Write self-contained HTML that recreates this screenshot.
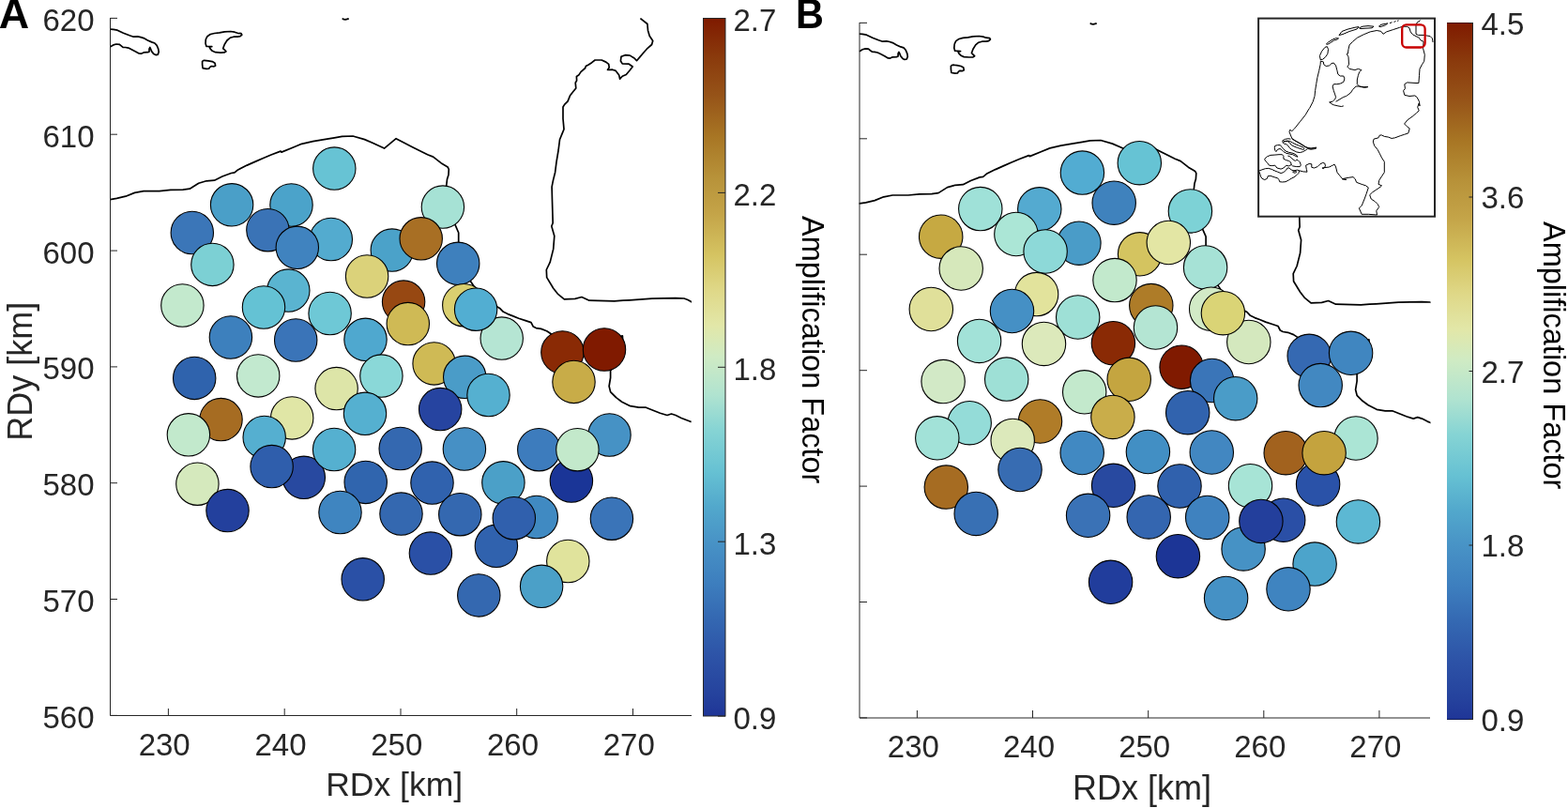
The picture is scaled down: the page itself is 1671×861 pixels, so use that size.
<!DOCTYPE html>
<html><head><meta charset="utf-8"><title>Amplification Factor maps</title>
<style>html,body{margin:0;padding:0;background:#fff;}svg{display:block;}</style>
</head><body>
<svg width="1671" height="861" viewBox="0 0 1671 861">
<defs>
<linearGradient id="cm" x1="0" y1="0" x2="0" y2="1"><stop offset="0.000" stop-color="#7f1a00"/><stop offset="0.055" stop-color="#8a3a0c"/><stop offset="0.110" stop-color="#965318"/><stop offset="0.170" stop-color="#a87624"/><stop offset="0.230" stop-color="#b8933a"/><stop offset="0.280" stop-color="#c4a448"/><stop offset="0.340" stop-color="#d5c462"/><stop offset="0.390" stop-color="#dfd888"/><stop offset="0.440" stop-color="#e2e7a8"/><stop offset="0.485" stop-color="#cfebc4"/><stop offset="0.540" stop-color="#b0e3d0"/><stop offset="0.590" stop-color="#86d4d4"/><stop offset="0.650" stop-color="#66c1d3"/><stop offset="0.700" stop-color="#52a8cc"/><stop offset="0.750" stop-color="#4893c6"/><stop offset="0.810" stop-color="#3d7ebe"/><stop offset="0.860" stop-color="#3468b2"/><stop offset="0.915" stop-color="#2d53a7"/><stop offset="0.970" stop-color="#25429d"/><stop offset="1.000" stop-color="#1f3597"/></linearGradient>
<clipPath id="clipA"><rect x="117" y="19" width="620" height="744"/></clipPath>
<clipPath id="clipB"><rect x="915.5" y="24" width="609" height="741"/></clipPath>
</defs>
<rect width="100%" height="100%" fill="#fff"/>
<g clip-path="url(#clipA)"><path d="M117.3,31.2 L120.8,31.4 L125.1,32.2 L131.5,35.3 L138.0,37.8 L142.3,39.2 L146.6,38.9 L149.9,39.6 L153.1,40.6 L157.4,43.0 L161.7,44.9 L164.9,46.0 L167.1,48.4 L168.7,52.2 L169.2,55.4 L168.2,58.1 L166.0,58.6 L163.9,57.6 L161.7,54.9 L160.6,52.2 L159.8,50.5 L159.0,52.2 L159.0,55.1 L157.4,55.7 L153.1,55.9 L150.4,57.2 L148.2,57.0 L144.5,54.9 L140.2,52.7 L136.9,51.1 L133.7,50.5 L131.0,50.3 L128.9,48.6 L127.2,47.3 L124.0,47.0 L120.8,47.9 L118.1,49.5 L117.3,50.0 M219.3,41.9 L221.0,38.7 L224.2,36.5 L228.5,35.5 L233.9,34.9 L239.3,33.9 L245.7,33.5 L250.0,34.2 L253.3,35.3 L257.0,35.7 L257.8,37.1 L256.0,38.7 L253.3,39.2 L249.0,39.2 L245.2,40.3 L242.0,43.0 L239.3,47.3 L237.7,51.6 L239.3,53.2 L240.9,54.9 L239.3,55.9 L235.0,56.2 L229.6,55.7 L226.3,54.3 L224.2,52.2 L223.1,50.0 L225.8,49.7 L223.1,49.5 L219.9,49.3 L219.0,46.2 L219.3,41.9 M215.6,65.1 L217.7,64.3 L222.0,64.8 L226.3,65.6 L229.0,67.2 L229.6,69.9 L228.0,70.8 L225.3,70.5 L223.6,71.6 L222.6,73.2 L219.9,73.4 L216.1,72.6 L215.6,68.9 L215.6,65.1 M365.1,19.4 L365.5,20.4 L368.0,20.8 L371.0,20.2 L371.2,19.4 M117.5,212.6 L117.4,212.6 L124.4,211.4 L133.9,209.2 L143.5,205.4 L153.1,203.6 L169.8,203.6 L181.8,202.4 L195.0,202.2 L202.2,201.2 L211.7,195.2 L220.1,192.8 L228.5,192.2 L236.9,188.0 L246.4,184.5 L250.0,183.9 L253.6,180.9 L263.2,176.1 L272.8,171.9 L281.2,168.3 L289.5,164.7 L299.1,161.1 L300.0,162.1 L312.0,157.3 L321.5,153.3 L333.5,150.6 L345.5,148.6 L356.3,146.8 L364.6,145.3 L376.0,145.0 L388.6,148.6 L398.1,152.7 L409.5,158.1 L422.1,147.7 L440.0,156.9 L455.6,164.7 L461.6,167.1 L470.0,173.7 L477.1,177.9 L478.3,180.3 L478.0,186.3 L476.5,191.0 L475.7,198.2 L476.5,205.0 L479.0,218.0 L483.0,232.0 L485.2,239.9 L488.7,248.0 L488.7,258.5 L490.0,270.0 L495.0,290.0 L505.0,305.0 L520.0,318.0 L530.0,327.0 L533.0,328.8 L536.4,332.3 L541.1,334.6 L546.9,336.9 L552.7,339.2 L560.0,341.6 L566.0,343.6 L568.3,348.1 L571.3,349.6 L576.6,350.4 L582.7,352.7 L587.2,355.7 L600.0,362.0 L621.7,374.0 L640.0,366.0 L655.0,360.0 L663.4,357.9 L664.0,370.0 L658.0,385.0 L650.6,394.9 L650.6,402.5 L649.1,411.5 L650.6,417.6 L656.6,423.6 L662.7,428.2 L671.7,432.7 L680.8,434.2 L688.4,434.2 L695.9,437.2 L703.5,440.2 L711.0,442.5 L715.5,441.0 L720.1,442.5 L726.1,445.5 L735.9,449.3 L736.6,449.6 M682.4,19.6 L689.9,25.5 L690.5,32.4 L692.2,38.2 L695.7,43.5 L694.6,47.5 L689.3,52.2 L685.3,56.8 L681.8,60.9 L678.5,64.7 L676.0,62.0 L671.3,59.1 L666.7,58.6 L662.0,60.3 L661.4,65.0 L663.2,67.9 L670.2,68.2 L674.2,71.0 L671.3,74.8 L667.3,79.5 L663.2,81.2 L660.6,84.1 L659.7,80.1 L656.2,75.4 L652.7,74.2 L647.5,74.5 L649.2,71.9 L648.7,68.4 L645.8,66.1 L641.1,64.0 L634.1,64.0 L630.7,66.7 L627.2,69.0 L624.3,70.5 L623.7,72.5 L619.0,76.6 L616.7,80.1 L614.4,81.4 L614.6,85.9 L613.2,88.2 L613.8,94.0 L610.9,97.5 L607.4,102.1 L605.1,107.9 L601.6,111.4 L600.0,114.0 L600.0,126.5 L601.0,137.7 L599.3,141.9 L596.5,148.8 L595.1,160.0 L593.0,172.6 L591.6,183.7 L589.5,192.1 L588.1,199.1 L588.5,214.3 L589.2,237.6 L587.8,241.0 L590.8,251.5 L589.7,265.4 L586.2,279.4 L582.3,287.5 L582.7,295.6 L589.7,307.2 L594.3,313.1 L601.3,318.9 L612.9,318.4 L619.9,316.5 L628.0,320.2 L654.7,320.8 L664.0,320.2 L671.0,319.8 L695.0,318.2 L720.0,317.7 L729.0,318.0 L733.0,319.5 L737.5,322.0" fill="none" stroke="#000" stroke-width="1.7" stroke-linejoin="round"/></g>
<circle cx="247.1" cy="218.3" r="22.7" fill="#4a9fc8" stroke="#000" stroke-width="1.1"/>
<circle cx="310.5" cy="218.5" r="22.7" fill="#4ba3ca" stroke="#000" stroke-width="1.1"/>
<circle cx="204.8" cy="248.0" r="22.7" fill="#3b76b8" stroke="#000" stroke-width="1.1"/>
<circle cx="285.4" cy="245.2" r="22.7" fill="#3a73b6" stroke="#000" stroke-width="1.1"/>
<circle cx="352.8" cy="255.0" r="22.7" fill="#53abcf" stroke="#000" stroke-width="1.1"/>
<circle cx="316.8" cy="263.8" r="22.7" fill="#4083bf" stroke="#000" stroke-width="1.1"/>
<circle cx="226.4" cy="281.9" r="22.7" fill="#7cd0d4" stroke="#000" stroke-width="1.1"/>
<circle cx="194.4" cy="325.5" r="22.7" fill="#c3e9cd" stroke="#000" stroke-width="1.1"/>
<circle cx="307.3" cy="309.6" r="22.7" fill="#5ab4d0" stroke="#000" stroke-width="1.1"/>
<circle cx="281.0" cy="327.5" r="22.7" fill="#64c2d4" stroke="#000" stroke-width="1.1"/>
<circle cx="356.3" cy="179.6" r="22.7" fill="#67c3d4" stroke="#000" stroke-width="1.1"/>
<circle cx="471.9" cy="220.6" r="22.7" fill="#a6e2d5" stroke="#000" stroke-width="1.1"/>
<circle cx="417.8" cy="266.6" r="22.7" fill="#4ba2c9" stroke="#000" stroke-width="1.1"/>
<circle cx="448.7" cy="254.3" r="22.7" fill="#a86f24" stroke="#000" stroke-width="1.1"/>
<circle cx="488.2" cy="280.8" r="22.7" fill="#3e80bd" stroke="#000" stroke-width="1.1"/>
<circle cx="391.1" cy="294.5" r="22.7" fill="#dbd27a" stroke="#000" stroke-width="1.1"/>
<circle cx="430.1" cy="321.6" r="22.7" fill="#974812" stroke="#000" stroke-width="1.1"/>
<circle cx="434.8" cy="345.1" r="22.7" fill="#cfba55" stroke="#000" stroke-width="1.1"/>
<circle cx="534.7" cy="360.6" r="22.7" fill="#b5e5d3" stroke="#000" stroke-width="1.1"/>
<circle cx="494.3" cy="325.2" r="22.7" fill="#dacf70" stroke="#000" stroke-width="1.1"/>
<circle cx="507.1" cy="329.7" r="22.7" fill="#52aed2" stroke="#000" stroke-width="1.1"/>
<circle cx="351.6" cy="334.0" r="22.7" fill="#6ec8d6" stroke="#000" stroke-width="1.1"/>
<circle cx="245.9" cy="359.5" r="22.7" fill="#3d80bd" stroke="#000" stroke-width="1.1"/>
<circle cx="315.2" cy="362.5" r="22.7" fill="#3a74b8" stroke="#000" stroke-width="1.1"/>
<circle cx="207.2" cy="402.9" r="22.7" fill="#2f63ad" stroke="#000" stroke-width="1.1"/>
<circle cx="275.2" cy="400.4" r="22.7" fill="#c2e9cf" stroke="#000" stroke-width="1.1"/>
<circle cx="235.5" cy="447.1" r="22.7" fill="#a66c22" stroke="#000" stroke-width="1.1"/>
<circle cx="200.9" cy="463.3" r="22.7" fill="#c2e9cc" stroke="#000" stroke-width="1.1"/>
<circle cx="311.2" cy="445.4" r="22.7" fill="#e0e6a6" stroke="#000" stroke-width="1.1"/>
<circle cx="281.7" cy="465.9" r="22.7" fill="#55afd0" stroke="#000" stroke-width="1.1"/>
<circle cx="323.8" cy="508.8" r="22.7" fill="#2849a0" stroke="#000" stroke-width="1.1"/>
<circle cx="289.6" cy="497.1" r="22.7" fill="#2f5eac" stroke="#000" stroke-width="1.1"/>
<circle cx="358.6" cy="414.1" r="22.7" fill="#dde5a8" stroke="#000" stroke-width="1.1"/>
<circle cx="389.5" cy="361.8" r="22.7" fill="#4fa8cf" stroke="#000" stroke-width="1.1"/>
<circle cx="406.4" cy="400.6" r="22.7" fill="#8ad8d8" stroke="#000" stroke-width="1.1"/>
<circle cx="389.0" cy="440.8" r="22.7" fill="#55b0d0" stroke="#000" stroke-width="1.1"/>
<circle cx="462.6" cy="387.4" r="22.7" fill="#cfba55" stroke="#000" stroke-width="1.1"/>
<circle cx="495.2" cy="401.8" r="22.7" fill="#4a9cc8" stroke="#000" stroke-width="1.1"/>
<circle cx="520.5" cy="421.0" r="22.7" fill="#55b0d0" stroke="#000" stroke-width="1.1"/>
<circle cx="469.2" cy="436.1" r="22.7" fill="#2644a0" stroke="#000" stroke-width="1.1"/>
<circle cx="599.4" cy="375.5" r="22.7" fill="#8a2a05" stroke="#000" stroke-width="1.1"/>
<circle cx="644.0" cy="372.5" r="22.7" fill="#801a00" stroke="#000" stroke-width="1.1"/>
<circle cx="611.5" cy="406.9" r="22.7" fill="#c8ac48" stroke="#000" stroke-width="1.1"/>
<circle cx="574.3" cy="479.2" r="22.7" fill="#3d7cbd" stroke="#000" stroke-width="1.1"/>
<circle cx="649.5" cy="463.5" r="22.7" fill="#4692c5" stroke="#000" stroke-width="1.1"/>
<circle cx="608.9" cy="512.5" r="22.7" fill="#1a3597" stroke="#000" stroke-width="1.1"/>
<circle cx="615.4" cy="479.2" r="22.7" fill="#c3e9cb" stroke="#000" stroke-width="1.1"/>
<circle cx="210.4" cy="515.7" r="22.7" fill="#d5e9bd" stroke="#000" stroke-width="1.1"/>
<circle cx="242.5" cy="544.1" r="22.7" fill="#23409d" stroke="#000" stroke-width="1.1"/>
<circle cx="356.1" cy="479.0" r="22.7" fill="#55b0d0" stroke="#000" stroke-width="1.1"/>
<circle cx="426.7" cy="478.0" r="22.7" fill="#3468b0" stroke="#000" stroke-width="1.1"/>
<circle cx="494.9" cy="478.5" r="22.7" fill="#4690c5" stroke="#000" stroke-width="1.1"/>
<circle cx="389.7" cy="513.9" r="22.7" fill="#3065ae" stroke="#000" stroke-width="1.1"/>
<circle cx="362.5" cy="546.0" r="22.7" fill="#3f85c0" stroke="#000" stroke-width="1.1"/>
<circle cx="460.5" cy="514.6" r="22.7" fill="#3062ae" stroke="#000" stroke-width="1.1"/>
<circle cx="427.5" cy="547.6" r="22.7" fill="#3468b0" stroke="#000" stroke-width="1.1"/>
<circle cx="490.3" cy="548.2" r="22.7" fill="#3468b0" stroke="#000" stroke-width="1.1"/>
<circle cx="536.4" cy="514.3" r="22.7" fill="#4ba0c8" stroke="#000" stroke-width="1.1"/>
<circle cx="571.8" cy="551.0" r="22.7" fill="#408ac2" stroke="#000" stroke-width="1.1"/>
<circle cx="528.9" cy="581.8" r="22.7" fill="#3062ae" stroke="#000" stroke-width="1.1"/>
<circle cx="547.8" cy="552.2" r="22.7" fill="#3060ad" stroke="#000" stroke-width="1.1"/>
<circle cx="651.9" cy="552.7" r="22.7" fill="#3a74b8" stroke="#000" stroke-width="1.1"/>
<circle cx="605.3" cy="598.0" r="22.7" fill="#e0e39c" stroke="#000" stroke-width="1.1"/>
<circle cx="577.1" cy="624.8" r="22.7" fill="#4ba0c8" stroke="#000" stroke-width="1.1"/>
<circle cx="510.3" cy="634.4" r="22.7" fill="#3468b0" stroke="#000" stroke-width="1.1"/>
<circle cx="458.9" cy="589.6" r="22.7" fill="#2a50a6" stroke="#000" stroke-width="1.1"/>
<circle cx="386.7" cy="617.3" r="22.7" fill="#2a50a6" stroke="#000" stroke-width="1.1"/>
<path d="M117.5,19 L117.5,762.5 L737,762.5 M179.4,762.5 L179.4,755 M303.2,762.5 L303.2,755 M427.0,762.5 L427.0,755 M550.7,762.5 L550.7,755 M674.5,762.5 L674.5,755 M117.5,19.4 L125,19.4 M117.5,143.2 L125,143.2 M117.5,267.1 L125,267.1 M117.5,390.9 L125,390.9 M117.5,514.7 L125,514.7 M117.5,638.5 L125,638.5 M117.5,762.4 L125,762.4 " fill="none" stroke="#262626" stroke-width="1"/>
<text x="175.2" y="805.2" font-size="33" text-anchor="middle" fill="#262626" font-family="'Liberation Sans', Helvetica, Arial, sans-serif">230</text>
<text x="299.0" y="805.2" font-size="33" text-anchor="middle" fill="#262626" font-family="'Liberation Sans', Helvetica, Arial, sans-serif">240</text>
<text x="422.8" y="805.2" font-size="33" text-anchor="middle" fill="#262626" font-family="'Liberation Sans', Helvetica, Arial, sans-serif">250</text>
<text x="546.5" y="805.2" font-size="33" text-anchor="middle" fill="#262626" font-family="'Liberation Sans', Helvetica, Arial, sans-serif">260</text>
<text x="670.3" y="805.2" font-size="33" text-anchor="middle" fill="#262626" font-family="'Liberation Sans', Helvetica, Arial, sans-serif">270</text>
<text x="100.5" y="32.8" font-size="33" text-anchor="end" fill="#262626" font-family="'Liberation Sans', Helvetica, Arial, sans-serif">620</text>
<text x="100.5" y="156.7" font-size="33" text-anchor="end" fill="#262626" font-family="'Liberation Sans', Helvetica, Arial, sans-serif">610</text>
<text x="100.5" y="280.5" font-size="33" text-anchor="end" fill="#262626" font-family="'Liberation Sans', Helvetica, Arial, sans-serif">600</text>
<text x="100.5" y="404.3" font-size="33" text-anchor="end" fill="#262626" font-family="'Liberation Sans', Helvetica, Arial, sans-serif">590</text>
<text x="100.5" y="528.2" font-size="33" text-anchor="end" fill="#262626" font-family="'Liberation Sans', Helvetica, Arial, sans-serif">580</text>
<text x="100.5" y="652.0" font-size="33" text-anchor="end" fill="#262626" font-family="'Liberation Sans', Helvetica, Arial, sans-serif">570</text>
<text x="100.5" y="775.8" font-size="33" text-anchor="end" fill="#262626" font-family="'Liberation Sans', Helvetica, Arial, sans-serif">560</text>
<text x="420.2" y="848.3" font-size="35.5" text-anchor="middle" fill="#262626" font-family="'Liberation Sans', Helvetica, Arial, sans-serif">RDx [km]</text>
<text transform="translate(33.5,395.8) rotate(-90)" font-size="36" text-anchor="middle" fill="#262626" font-family="'Liberation Sans', Helvetica, Arial, sans-serif">RDy [km]</text>
<rect x="749.5" y="19.5" width="23.5" height="743.5" fill="url(#cm)" stroke="#262626" stroke-width="1"/>
<path d="M773,19.5 L765,19.5 M773,205.4 L765,205.4 M773,391.3 L765,391.3 M773,577.2 L765,577.2 M773,763.1 L765,763.1 " stroke="#262626" stroke-width="1"/>
<text x="781.5" y="33.0" font-size="33" fill="#262626" font-family="'Liberation Sans', Helvetica, Arial, sans-serif">2.7</text>
<text x="781.5" y="218.9" font-size="33" fill="#262626" font-family="'Liberation Sans', Helvetica, Arial, sans-serif">2.2</text>
<text x="781.5" y="404.8" font-size="33" fill="#262626" font-family="'Liberation Sans', Helvetica, Arial, sans-serif">1.8</text>
<text x="781.5" y="590.7" font-size="33" fill="#262626" font-family="'Liberation Sans', Helvetica, Arial, sans-serif">1.3</text>
<text x="781.5" y="776.6" font-size="33" fill="#262626" font-family="'Liberation Sans', Helvetica, Arial, sans-serif">0.9</text>
<text transform="translate(854.6,372.7) rotate(90)" font-size="32.5" text-anchor="middle" fill="#000" font-family="'Liberation Sans', Helvetica, Arial, sans-serif">Amplification Factor</text>
<g clip-path="url(#clipB)"><path d="M915.7,36.1 L919.1,36.3 L923.4,37.2 L929.8,40.2 L936.2,42.8 L940.5,44.2 L944.8,43.9 L948.0,44.5 L951.3,45.6 L955.5,47.9 L959.8,49.9 L963.0,50.9 L965.2,53.3 L966.8,57.1 L967.3,60.3 L966.3,63.0 L964.1,63.5 L962.0,62.4 L959.8,59.7 L958.8,57.1 L957.9,55.4 L957.1,57.1 L957.1,60.0 L955.5,60.6 L951.3,60.8 L948.6,62.1 L946.4,61.9 L942.7,59.7 L938.4,57.6 L935.2,56.0 L932.0,55.4 L929.3,55.2 L927.1,53.5 L925.5,52.2 L922.3,51.9 L919.1,52.8 L916.4,54.4 L915.7,54.9 M1017.2,46.9 L1018.8,43.6 L1022.0,41.5 L1026.3,40.4 L1031.6,39.9 L1037.0,38.8 L1043.4,38.5 L1047.7,39.1 L1050.9,40.2 L1054.7,40.6 L1055.4,42.0 L1053.6,43.6 L1050.9,44.2 L1046.6,44.2 L1042.9,45.2 L1039.7,47.9 L1037.0,52.2 L1035.4,56.5 L1037.0,58.1 L1038.6,59.7 L1037.0,60.8 L1032.7,61.0 L1027.3,60.6 L1024.1,59.2 L1022.0,57.1 L1020.9,54.9 L1023.6,54.6 L1020.9,54.4 L1017.7,54.2 L1016.8,51.2 L1017.2,46.9 M1013.4,69.9 L1015.5,69.2 L1019.8,69.6 L1024.1,70.5 L1026.8,72.1 L1027.3,74.8 L1025.7,75.6 L1023.0,75.3 L1021.4,76.4 L1020.4,78.0 L1017.7,78.2 L1013.9,77.5 L1013.4,73.7 L1013.4,69.9 M1162.1,24.4 L1162.5,25.4 L1165.0,25.8 L1168.0,25.2 L1168.2,24.4 M915.9,216.9 L915.8,216.9 L922.7,215.8 L932.2,213.6 L941.7,209.8 L951.2,208.0 L967.9,208.0 L979.8,206.8 L992.9,206.6 L1000.1,205.6 L1009.6,199.6 L1017.9,197.3 L1026.3,196.7 L1034.6,192.5 L1044.1,188.9 L1047.7,188.3 L1051.3,185.3 L1060.8,180.6 L1070.3,176.4 L1078.6,172.8 L1087.0,169.2 L1096.5,165.6 L1097.4,166.6 L1109.3,161.8 L1118.8,157.9 L1130.7,155.2 L1142.6,153.1 L1153.3,151.3 L1161.7,149.9 L1173.0,149.5 L1185.5,153.1 L1195.0,157.3 L1206.3,162.7 L1218.8,152.3 L1236.7,161.5 L1252.2,169.2 L1258.1,171.6 L1266.4,178.2 L1273.6,182.4 L1274.8,184.7 L1274.4,190.7 L1273.0,195.5 L1272.2,202.6 L1273.0,209.4 L1275.4,222.3 L1279.4,236.3 L1281.6,244.2 L1285.1,252.2 L1285.1,262.7 L1286.4,274.2 L1291.4,294.1 L1301.3,309.1 L1316.2,322.0 L1326.2,331.0 L1329.2,332.8 L1332.5,336.3 L1337.2,338.6 L1343.0,340.8 L1348.7,343.1 L1356.0,345.5 L1362.0,347.5 L1364.3,352.0 L1367.2,353.5 L1372.5,354.3 L1378.6,356.6 L1383.1,359.6 L1395.8,365.9 L1417.4,377.8 L1435.6,369.9 L1450.5,363.9 L1458.9,361.8 L1459.5,373.8 L1453.5,388.8 L1446.1,398.7 L1446.1,406.2 L1444.6,415.2 L1446.1,421.3 L1452.1,427.3 L1458.2,431.8 L1467.1,436.3 L1476.2,437.8 L1483.7,437.8 L1491.2,440.8 L1498.7,443.8 L1506.2,446.1 L1510.7,444.6 L1515.3,446.1 L1521.2,449.1 L1531.0,452.9 L1531.7,453.2 M1477.7,24.6 L1485.2,30.4 L1485.8,37.4 L1487.5,43.2 L1491.0,48.4 L1489.9,52.4 L1484.7,57.1 L1480.6,61.7 L1477.1,65.8 L1473.9,69.6 L1471.4,66.9 L1466.7,64.0 L1462.1,63.4 L1457.5,65.2 L1456.9,69.8 L1458.7,72.7 L1465.6,73.0 L1469.6,75.8 L1466.7,79.6 L1462.7,84.3 L1458.7,86.0 L1456.1,88.9 L1455.2,84.9 L1451.7,80.2 L1448.3,79.1 L1443.1,79.3 L1444.8,76.7 L1444.2,73.3 L1441.3,71.0 L1436.7,68.9 L1429.8,68.9 L1426.3,71.5 L1422.8,73.9 L1419.9,75.4 L1419.4,77.3 L1414.7,81.4 L1412.4,84.9 L1410.1,86.2 L1410.3,90.6 L1409.0,93.0 L1409.5,98.7 L1406.6,102.2 L1403.2,106.9 L1400.9,112.6 L1397.4,116.1 L1395.8,118.7 L1395.8,131.1 L1396.8,142.3 L1395.1,146.5 L1392.3,153.4 L1390.9,164.5 L1388.8,177.1 L1387.4,188.2 L1385.4,196.5 L1384.0,203.5 L1384.4,218.7 L1385.1,241.9 L1383.7,245.3 L1386.6,255.7 L1385.6,269.6 L1382.1,283.5 L1378.2,291.6 L1378.6,299.7 L1385.6,311.2 L1390.1,317.1 L1397.1,322.9 L1408.6,322.4 L1415.6,320.5 L1423.6,324.2 L1450.2,324.8 L1459.5,324.2 L1466.4,323.8 L1490.3,322.2 L1515.2,321.7 L1524.1,322.0 L1528.1,323.5 L1532.6,326.0" fill="none" stroke="#000" stroke-width="1.7" stroke-linejoin="round"/></g>
<circle cx="1044.8" cy="222.6" r="23.2" fill="#9fe1d8" stroke="#000" stroke-width="1.1"/>
<circle cx="1107.8" cy="222.8" r="23.2" fill="#54aad0" stroke="#000" stroke-width="1.1"/>
<circle cx="1002.7" cy="252.2" r="23.2" fill="#c6a942" stroke="#000" stroke-width="1.1"/>
<circle cx="1082.9" cy="249.5" r="23.2" fill="#abe6d6" stroke="#000" stroke-width="1.1"/>
<circle cx="1149.9" cy="259.2" r="23.2" fill="#4a9cc8" stroke="#000" stroke-width="1.1"/>
<circle cx="1114.1" cy="268.0" r="23.2" fill="#8dd9d8" stroke="#000" stroke-width="1.1"/>
<circle cx="1024.2" cy="286.0" r="23.2" fill="#d6e8bb" stroke="#000" stroke-width="1.1"/>
<circle cx="992.3" cy="329.5" r="23.2" fill="#e0e09a" stroke="#000" stroke-width="1.1"/>
<circle cx="1104.6" cy="313.6" r="23.2" fill="#e2e39c" stroke="#000" stroke-width="1.1"/>
<circle cx="1078.5" cy="331.5" r="23.2" fill="#4590c5" stroke="#000" stroke-width="1.1"/>
<circle cx="1153.4" cy="184.1" r="23.2" fill="#52acd2" stroke="#000" stroke-width="1.1"/>
<circle cx="1268.4" cy="224.9" r="23.2" fill="#7dd2d6" stroke="#000" stroke-width="1.1"/>
<circle cx="1214.6" cy="270.8" r="23.2" fill="#d4c460" stroke="#000" stroke-width="1.1"/>
<circle cx="1245.3" cy="258.5" r="23.2" fill="#e3e6a4" stroke="#000" stroke-width="1.1"/>
<circle cx="1284.6" cy="284.9" r="23.2" fill="#a6e2d6" stroke="#000" stroke-width="1.1"/>
<circle cx="1188.0" cy="298.6" r="23.2" fill="#c2e9cc" stroke="#000" stroke-width="1.1"/>
<circle cx="1226.8" cy="325.6" r="23.2" fill="#ae7c28" stroke="#000" stroke-width="1.1"/>
<circle cx="1231.5" cy="349.0" r="23.2" fill="#b4e5d3" stroke="#000" stroke-width="1.1"/>
<circle cx="1330.8" cy="364.5" r="23.2" fill="#d4e8be" stroke="#000" stroke-width="1.1"/>
<circle cx="1290.7" cy="329.2" r="23.2" fill="#d2eac6" stroke="#000" stroke-width="1.1"/>
<circle cx="1303.4" cy="333.7" r="23.2" fill="#dad476" stroke="#000" stroke-width="1.1"/>
<circle cx="1148.7" cy="338.0" r="23.2" fill="#9ee0d6" stroke="#000" stroke-width="1.1"/>
<circle cx="1043.6" cy="363.4" r="23.2" fill="#a2e2d8" stroke="#000" stroke-width="1.1"/>
<circle cx="1112.5" cy="366.4" r="23.2" fill="#dce9bb" stroke="#000" stroke-width="1.1"/>
<circle cx="1005.1" cy="406.6" r="23.2" fill="#d2e9c6" stroke="#000" stroke-width="1.1"/>
<circle cx="1072.7" cy="404.1" r="23.2" fill="#9ee0d6" stroke="#000" stroke-width="1.1"/>
<circle cx="1033.2" cy="450.7" r="23.2" fill="#94dcd8" stroke="#000" stroke-width="1.1"/>
<circle cx="998.8" cy="466.8" r="23.2" fill="#a2e2d8" stroke="#000" stroke-width="1.1"/>
<circle cx="1108.5" cy="449.0" r="23.2" fill="#b07c28" stroke="#000" stroke-width="1.1"/>
<circle cx="1079.2" cy="469.4" r="23.2" fill="#dce9bb" stroke="#000" stroke-width="1.1"/>
<circle cx="1087.0" cy="500.5" r="23.2" fill="#376cb2" stroke="#000" stroke-width="1.1"/>
<circle cx="1155.7" cy="417.8" r="23.2" fill="#c3e9cc" stroke="#000" stroke-width="1.1"/>
<circle cx="1186.4" cy="365.7" r="23.2" fill="#8a2a05" stroke="#000" stroke-width="1.1"/>
<circle cx="1203.2" cy="404.3" r="23.2" fill="#c4a540" stroke="#000" stroke-width="1.1"/>
<circle cx="1185.9" cy="444.4" r="23.2" fill="#c9ad4a" stroke="#000" stroke-width="1.1"/>
<circle cx="1259.1" cy="391.2" r="23.2" fill="#801a00" stroke="#000" stroke-width="1.1"/>
<circle cx="1291.6" cy="405.5" r="23.2" fill="#3a75b8" stroke="#000" stroke-width="1.1"/>
<circle cx="1316.7" cy="424.7" r="23.2" fill="#4a9cc8" stroke="#000" stroke-width="1.1"/>
<circle cx="1265.7" cy="439.7" r="23.2" fill="#3163ae" stroke="#000" stroke-width="1.1"/>
<circle cx="1395.2" cy="379.3" r="23.2" fill="#3569b2" stroke="#000" stroke-width="1.1"/>
<circle cx="1439.6" cy="376.3" r="23.2" fill="#4086c0" stroke="#000" stroke-width="1.1"/>
<circle cx="1407.2" cy="410.6" r="23.2" fill="#4288c1" stroke="#000" stroke-width="1.1"/>
<circle cx="1370.2" cy="482.7" r="23.2" fill="#a2621e" stroke="#000" stroke-width="1.1"/>
<circle cx="1445.0" cy="467.0" r="23.2" fill="#abe5d5" stroke="#000" stroke-width="1.1"/>
<circle cx="1404.6" cy="515.9" r="23.2" fill="#2a52a8" stroke="#000" stroke-width="1.1"/>
<circle cx="1411.1" cy="482.7" r="23.2" fill="#c4a33e" stroke="#000" stroke-width="1.1"/>
<circle cx="1008.3" cy="519.1" r="23.2" fill="#a66c22" stroke="#000" stroke-width="1.1"/>
<circle cx="1040.2" cy="547.4" r="23.2" fill="#3870b4" stroke="#000" stroke-width="1.1"/>
<circle cx="1153.2" cy="482.5" r="23.2" fill="#4189c2" stroke="#000" stroke-width="1.1"/>
<circle cx="1223.4" cy="481.5" r="23.2" fill="#428fc4" stroke="#000" stroke-width="1.1"/>
<circle cx="1291.3" cy="482.0" r="23.2" fill="#4287c1" stroke="#000" stroke-width="1.1"/>
<circle cx="1186.6" cy="517.3" r="23.2" fill="#2849a0" stroke="#000" stroke-width="1.1"/>
<circle cx="1159.6" cy="549.3" r="23.2" fill="#3a72b6" stroke="#000" stroke-width="1.1"/>
<circle cx="1257.0" cy="518.0" r="23.2" fill="#3061ad" stroke="#000" stroke-width="1.1"/>
<circle cx="1224.2" cy="550.9" r="23.2" fill="#3466b0" stroke="#000" stroke-width="1.1"/>
<circle cx="1286.7" cy="551.4" r="23.2" fill="#3f82bf" stroke="#000" stroke-width="1.1"/>
<circle cx="1332.5" cy="517.7" r="23.2" fill="#a7e4d6" stroke="#000" stroke-width="1.1"/>
<circle cx="1367.7" cy="554.2" r="23.2" fill="#2a4fa6" stroke="#000" stroke-width="1.1"/>
<circle cx="1325.1" cy="584.9" r="23.2" fill="#4692c5" stroke="#000" stroke-width="1.1"/>
<circle cx="1343.9" cy="555.4" r="23.2" fill="#233f9c" stroke="#000" stroke-width="1.1"/>
<circle cx="1447.4" cy="555.9" r="23.2" fill="#5cb8d3" stroke="#000" stroke-width="1.1"/>
<circle cx="1401.1" cy="601.1" r="23.2" fill="#4ca4cb" stroke="#000" stroke-width="1.1"/>
<circle cx="1373.0" cy="627.8" r="23.2" fill="#3f84c0" stroke="#000" stroke-width="1.1"/>
<circle cx="1306.6" cy="637.4" r="23.2" fill="#4591c5" stroke="#000" stroke-width="1.1"/>
<circle cx="1255.4" cy="592.7" r="23.2" fill="#1c3596" stroke="#000" stroke-width="1.1"/>
<circle cx="1183.6" cy="620.3" r="23.2" fill="#213d9c" stroke="#000" stroke-width="1.1"/>
<circle cx="1214.3" cy="173.7" r="23.2" fill="#66c3d4" stroke="#000" stroke-width="1.1"/>
<circle cx="1187.2" cy="216.2" r="23.2" fill="#3f82bd" stroke="#000" stroke-width="1.1"/>
<path d="M916,24 L916,765 L1524,765 M977.4,765 L977.4,757 M1100.5,765 L1100.5,757 M1223.7,765 L1223.7,757 M1346.8,765 L1346.8,757 M1469.9,765 L1469.9,757 M916,24.4 L924,24.4 M916,147.8 L924,147.8 M916,271.2 L924,271.2 M916,394.7 L924,394.7 M916,518.1 L924,518.1 M916,641.5 L924,641.5 M916,764.9 L924,764.9 " fill="none" stroke="#262626" stroke-width="1"/>
<text x="973.4" y="807.0" font-size="33" text-anchor="middle" fill="#262626" font-family="'Liberation Sans', Helvetica, Arial, sans-serif">230</text>
<text x="1096.5" y="807.0" font-size="33" text-anchor="middle" fill="#262626" font-family="'Liberation Sans', Helvetica, Arial, sans-serif">240</text>
<text x="1219.7" y="807.0" font-size="33" text-anchor="middle" fill="#262626" font-family="'Liberation Sans', Helvetica, Arial, sans-serif">250</text>
<text x="1342.8" y="807.0" font-size="33" text-anchor="middle" fill="#262626" font-family="'Liberation Sans', Helvetica, Arial, sans-serif">260</text>
<text x="1465.9" y="807.0" font-size="33" text-anchor="middle" fill="#262626" font-family="'Liberation Sans', Helvetica, Arial, sans-serif">270</text>
<text x="1216.9" y="852.3" font-size="36" text-anchor="middle" fill="#262626" font-family="'Liberation Sans', Helvetica, Arial, sans-serif">RDx [km]</text>
<rect x="1542" y="24" width="27.2" height="743" fill="url(#cm)"/>
<path d="M1542,24.5 L1569,24.5 M1542,766.5 L1569,766.5" stroke="#000" stroke-opacity="0.45" stroke-width="1"/>
<path d="M1569.5,24 L1569.5,767" stroke="#262626" stroke-width="1"/>
<path d="M1569.5,24.5 L1565.5,24.5 M1569.5,210.0 L1565.5,210.0 M1569.5,395.5 L1565.5,395.5 M1569.5,581.0 L1565.5,581.0 M1569.5,766.5 L1565.5,766.5 " stroke="#262626" stroke-width="1"/>
<text x="1578.5" y="36.8" font-size="33" fill="#262626" font-family="'Liberation Sans', Helvetica, Arial, sans-serif">4.5</text>
<text x="1578.5" y="222.2" font-size="33" fill="#262626" font-family="'Liberation Sans', Helvetica, Arial, sans-serif">3.6</text>
<text x="1578.5" y="407.8" font-size="33" fill="#262626" font-family="'Liberation Sans', Helvetica, Arial, sans-serif">2.7</text>
<text x="1578.5" y="593.2" font-size="33" fill="#262626" font-family="'Liberation Sans', Helvetica, Arial, sans-serif">1.8</text>
<text x="1578.5" y="778.8" font-size="33" fill="#262626" font-family="'Liberation Sans', Helvetica, Arial, sans-serif">0.9</text>
<text transform="translate(1645.3,378.7) rotate(90)" font-size="32.5" text-anchor="middle" fill="#000" font-family="'Liberation Sans', Helvetica, Arial, sans-serif">Amplification Factor</text>
<rect x="1341.1" y="19.6" width="187.9" height="211.1" fill="#fff" stroke="#262626" stroke-width="2"/>
<path d="M1407.1,63.0 L1406.4,59.5 L1408.5,54.8 L1412.0,50.4 L1414.3,49.6 L1415.5,52.5 L1414.9,57.2 L1412.6,60.7 L1409.7,63.2 L1407.1,63.6 L1407.1,63.0 M1413.4,46.9 L1415.5,45.0 L1420.1,42.1 L1423.6,40.7 L1426.5,40.9 L1425.4,41.8 L1421.3,43.2 L1417.8,45.6 L1414.9,47.3 L1413.4,46.9 M1427.0,37.5 L1430.0,33.5 L1436.0,31.2 L1444.0,29.2 L1448.0,28.6 L1446.0,31.0 L1438.0,33.5 L1431.0,36.5 L1427.0,37.5 M1448.5,29.8 L1452.0,28.2 L1458.0,27.6 L1464.0,28.2 L1462.0,29.8 L1455.0,30.2 L1450.0,30.6 L1448.5,29.8 M1469.5,28.0 L1472.0,26.2 L1478.8,24.9 L1476.5,26.8 L1471.0,28.6 L1469.5,28.0 M1481.0,24.6 L1483.5,23.8 M1485.5,23.4 L1487.5,22.6 M1489.0,22.4 L1490.5,21.8 M1407.4,64.7 L1407.1,68.8 L1405.6,75.7 L1403.9,82.7 L1402.7,89.7 L1401.6,96.7 L1401.0,102.5 L1399.2,108.3 L1395.7,115.2 L1395.2,115.7 L1391.0,122.7 L1385.3,129.8 L1379.7,136.9 L1376.8,139.7 L1374.7,138.3 L1374.0,140.5 L1375.4,144.0 L1376.8,147.5 L1381.1,150.4 L1386.7,153.9 L1391.0,156.7 L1396.7,158.2 L1402.3,157.5 M1407.9,65.3 L1410.3,65.9 L1410.8,68.8 L1413.2,70.5 L1416.7,69.9 L1419.0,67.6 L1421.3,67.0 L1423.6,69.9 L1424.8,74.6 L1425.9,79.2 L1428.3,81.0 L1431.8,81.0 L1432.9,83.9 L1431.8,87.4 L1428.3,89.1 L1424.8,89.7 L1421.3,89.7 L1420.1,92.0 L1421.3,96.7 L1422.5,100.1 L1423.6,103.6 L1422.5,105.9 L1420.1,108.3 L1416.7,108.9 L1419.0,110.6 L1421.3,111.8 L1425.9,112.9 L1429.4,113.5 L1431.8,112.9 M1423.6,108.3 L1431.8,103.4 L1434.6,102.5 L1439.3,99.0 L1441.6,95.5 L1445.1,92.0 L1448.6,92.0 L1453.2,92.6 L1457.9,92.6 L1454.4,93.4 L1448.6,92.2 M1376.6,147.7 L1379.7,149.8 L1383.9,151.8 L1388.1,154.3 L1391.6,156.7 L1394.4,157.8 L1397.8,158.1 L1400.6,157.4 L1403.1,157.1 M1403.1,157.8 L1400.6,158.7 L1397.1,159.2 L1393.7,158.5 L1391.6,159.9 L1388.8,161.6 L1385.3,162.6 L1381.8,162.0 L1379.0,160.6 L1376.2,159.2 L1374.1,157.4 L1372.8,155.3 L1370.7,153.6 L1368.6,153.2 L1367.2,152.2 L1366.8,149.8 L1369.3,148.4 L1372.8,147.7 L1375.5,148.2 M1367.9,151.1 L1370.0,150.5 L1372.8,150.8 L1374.8,152.5 L1376.2,154.6 L1379.0,156.0 L1382.5,157.4 L1386.0,158.5 L1388.8,159.5 L1390.2,158.5 L1388.1,156.7 L1384.6,155.3 L1381.1,153.9 L1377.6,152.2 L1374.8,150.5 L1372.1,150.1 L1369.3,150.5 L1367.9,151.1 M1358.8,155.3 L1361.6,154.6 L1364.4,154.6 L1365.8,156.4 L1367.9,158.8 L1370.0,160.9 L1373.4,162.3 L1376.9,163.0 L1379.0,163.7 L1381.8,165.4 L1382.9,167.2 L1381.1,166.5 L1377.6,164.7 L1374.1,164.0 L1370.7,163.3 L1367.9,161.6 L1365.8,159.5 L1364.0,158.5 L1361.6,159.2 L1359.9,161.6 L1358.8,160.2 L1358.3,157.4 L1358.8,155.3 M1347.7,169.3 L1350.5,166.8 L1353.9,165.4 L1358.1,165.1 L1363.0,164.7 L1366.5,164.7 L1367.9,166.5 L1367.9,169.3 L1370.7,170.7 L1373.4,171.4 L1375.5,172.8 L1376.2,175.5 L1377.6,176.9 L1381.8,177.6 L1385.3,177.6 L1386.3,175.9 L1385.3,172.8 L1383.2,170.7 L1381.8,170.3 L1380.4,171.4 L1379.0,170.7 L1376.9,168.9 L1374.1,166.5 L1372.4,166.1 M1376.2,175.5 L1373.4,176.9 L1370.7,176.2 L1367.9,179.0 L1365.1,180.1 L1360.9,179.0 L1358.8,176.2 L1355.3,176.6 L1352.5,176.2 L1350.5,173.4 L1348.4,171.4 L1347.7,169.3 M1341.4,182.2 L1344.2,181.1 L1348.4,179.7 L1351.8,179.4 L1355.3,180.4 L1358.1,181.8 L1361.6,183.2 L1365.1,184.6 L1367.9,183.6 L1370.7,181.1 L1372.1,179.0 L1374.1,179.0 L1376.2,181.1 L1379.0,181.8 L1382.5,181.1 L1384.6,181.8 L1383.9,184.6 L1381.8,186.7 L1379.0,188.8 L1376.2,190.2 L1373.4,191.9 L1370.0,193.7 L1366.5,194.0 L1363.7,193.7 L1363.0,191.6 L1361.6,189.8 L1358.1,188.8 L1353.9,187.4 L1351.1,187.7 L1350.5,190.2 L1347.7,191.6 L1344.9,190.2 L1343.5,188.1 L1342.8,185.3 L1341.4,182.2 M1377.6,183.2 L1379.7,182.5 L1381.8,182.9 L1380.4,184.3 L1378.7,183.9 L1377.6,183.2 M1384.6,181.8 L1388.8,182.9 L1393.0,183.2 L1392.3,180.4 L1391.6,176.2 L1395.1,174.5 L1397.8,174.8 L1397.8,178.3 L1400.6,179.0 L1404.1,177.6 L1406.9,174.8 L1409.7,173.4 L1411.8,174.1 L1412.5,176.9 L1410.4,179.7 L1409.0,179.0 L1416.5,178.0 L1419.3,176.6 L1422.2,175.2 L1423.6,178.0 L1425.0,183.7 L1427.8,187.2 L1430.7,190.7 L1434.9,191.4 L1430.0,190.7 L1437.1,189.3 L1442.0,188.6 L1444.2,190.7 L1445.6,194.3 L1451.2,196.4 L1455.5,197.8 L1458.3,199.9 L1456.2,206.3 L1454.1,212.0 L1451.2,219.1 L1448.4,221.9 L1451.2,228.3 L1458.3,228.3 L1467.5,229.0 L1466.8,224.7 L1469.7,220.5 L1468.2,217.6 L1465.4,214.8 L1461.2,212.0 L1459.7,207.7 L1462.6,204.9 L1466.8,202.1 L1471.1,199.2 L1472.5,197.8 L1469.0,196.4 L1469.7,192.2 L1472.5,187.9 L1475.3,183.7 L1475.3,172.3 L1472.5,168.1 L1470.4,163.8 L1468.2,159.6 L1464.7,155.3 L1463.3,151.1 L1464.0,148.2 L1469.0,146.8 L1470.4,144.0 L1472.5,144.0 L1475.3,145.4 L1479.6,146.1 L1483.1,147.5 L1486.7,146.8 L1492.3,144.7 L1496.6,143.3 L1500.8,141.9 L1502.2,136.9 L1499.4,134.8 L1496.6,132.0 L1500.1,127.7 L1505.1,124.2 L1509.3,120.6 L1512.2,117.8 L1510.7,114.2 L1512.2,110.0 L1513.0,112.9 L1512.5,108.3 L1510.1,103.6 L1507.8,101.9 L1502.0,102.5 L1496.8,101.3 L1495.6,96.7 L1497.4,94.3 L1496.8,89.7 L1499.7,87.9 L1509.0,88.5 L1511.9,88.5 L1512.5,80.4 L1513.0,73.4 L1515.4,68.8 L1517.7,65.3 L1518.3,58.3 L1516.5,51.4 L1517.1,44.4 L1513.6,42.6 L1512.5,40.3 L1510.1,39.2 L1505.5,36.8 L1503.2,33.9 L1502.0,29.9 L1499.7,28.4 L1495.0,28.1 L1491.6,29.3 L1484.6,31.6 L1477.6,33.9 L1474.1,36.3 L1471.8,33.4 L1467.2,32.5 L1460.2,33.9 L1453.2,36.8 L1446.3,40.3 L1441.6,44.4 L1438.1,47.9 L1437.0,52.5 L1436.4,57.2 L1435.2,57.4 L1437.0,60.7 L1437.5,68.8 L1435.8,71.1 L1438.1,73.4 L1443.9,74.6 L1447.4,73.4 L1450.9,74.6 L1448.6,76.9 L1447.4,80.4 L1446.3,85.0 L1446.3,89.7 L1448.6,92.0 M1513.6,21.7 L1510.1,24.1 L1509.0,27.0 L1509.0,36.3 L1511.3,37.4 L1517.1,37.4 L1520.6,38.0 L1524.1,38.6 L1526.4,40.9 L1527.0,45.0" fill="none" stroke="#000" stroke-width="1.0" stroke-linejoin="round"/>
<rect x="1494.2" y="26.3" width="24.4" height="24.2" rx="4.5" fill="none" stroke="#c80000" stroke-width="2.3"/>
<text transform="translate(-1.2,29.9) scale(1.045,1.04)" x="0" y="0" font-size="43" font-weight="bold" fill="#000" font-family="'Liberation Sans', Helvetica, Arial, sans-serif">A</text>
<text transform="translate(848.1,30) scale(0.962,1.035)" x="0" y="0" font-size="43" font-weight="bold" fill="#000" font-family="'Liberation Sans', Helvetica, Arial, sans-serif">B</text>
</svg>
</body></html>
